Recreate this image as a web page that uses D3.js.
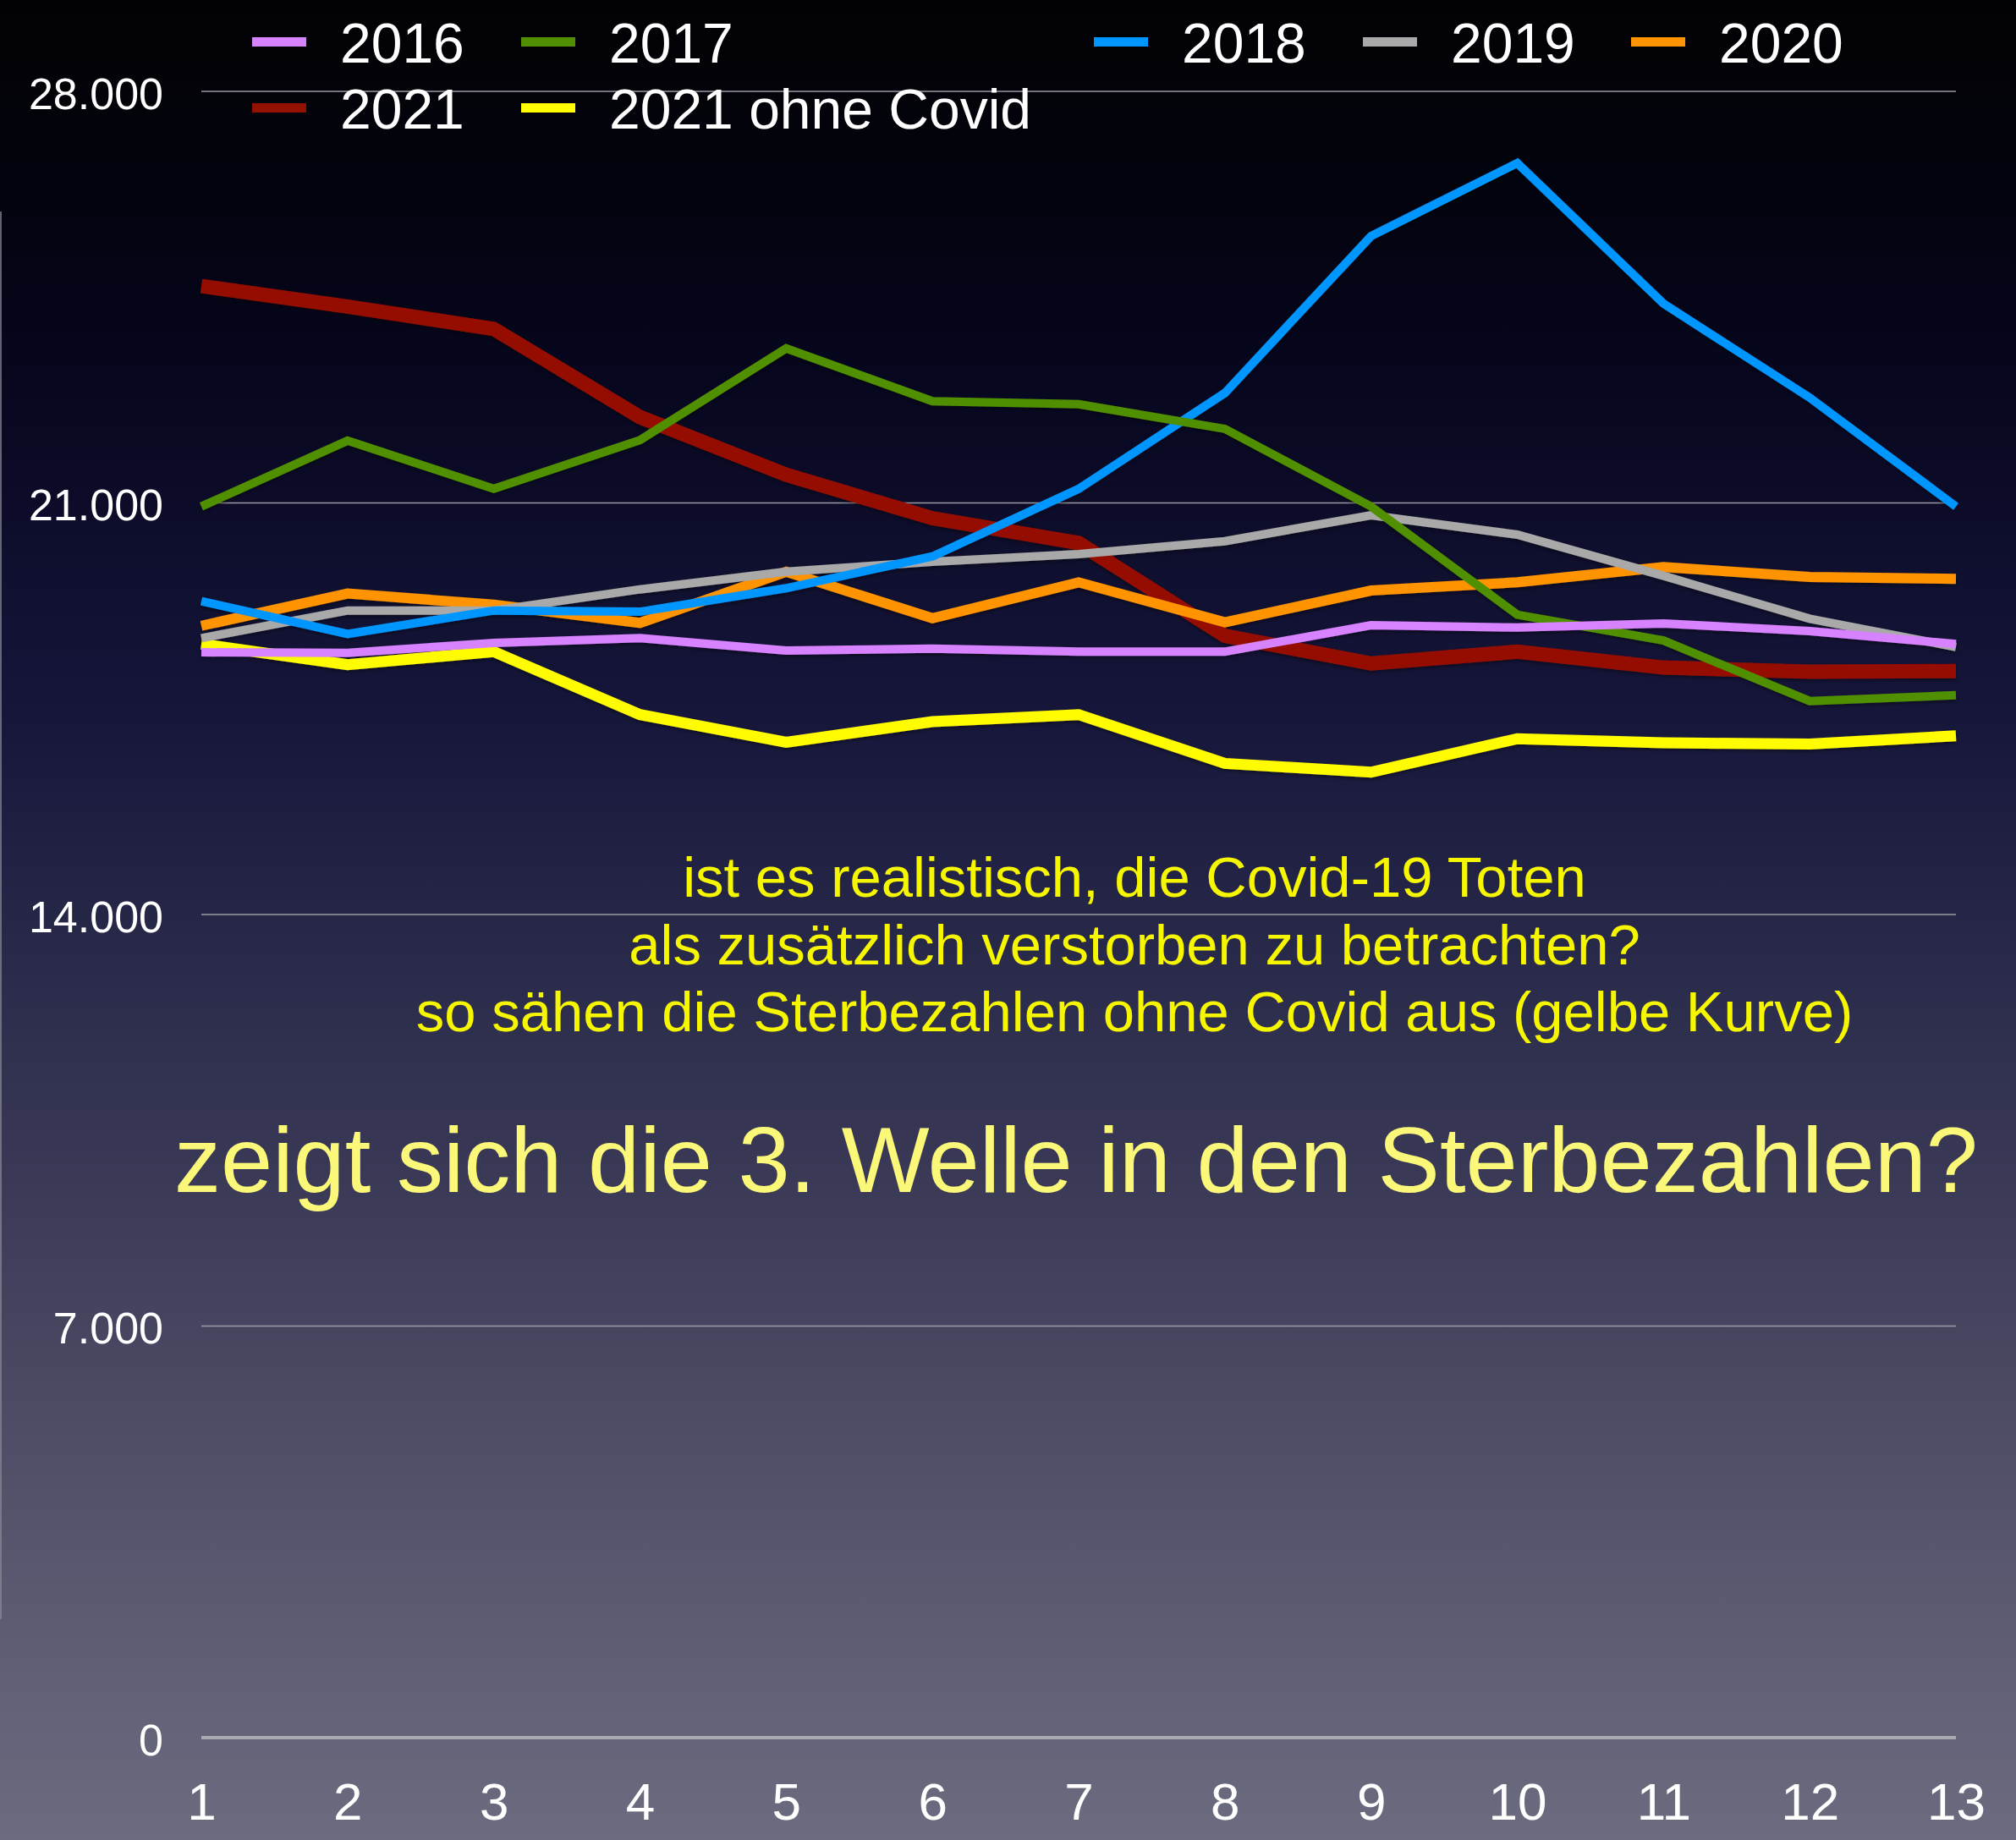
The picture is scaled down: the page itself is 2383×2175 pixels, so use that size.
<!DOCTYPE html>
<html>
<head>
<meta charset="utf-8">
<script src="https://cdn.jsdelivr.net/npm/d3@7"></script>
<style>
    body { margin: 0; background: #000; }
    svg { display: block; }
    text { font-family: "Liberation Sans", Arial, Helvetica, sans-serif; }
</style>
</head>
<body>
<div id="chart"></div>
<script>

    // x categories (weeks / months)
    var categories = [1, 2, 3, 4, 5, 6, 7, 8, 9, 10, 11, 12, 13];
    var yTicks = [0, 7000, 14000, 21000, 28000];

    var v2016 = [18460, 18450, 18620, 18700, 18490, 18520, 18470, 18470, 18920, 18880, 18950, 18820, 18600];
    var v2017 = [20940, 22060, 21240, 22070, 23630, 22730, 22680, 22260, 20940, 19100, 18660, 17630, 17730];
    var v2018 = [19330, 18770, 19170, 19150, 19550, 20090, 21240, 22870, 25540, 26780, 24390, 22790, 20940];
    var v2019 = [18700, 19170, 19170, 19530, 19830, 20000, 20130, 20350, 20790, 20460, 19760, 19030, 18550];
    var v2020 = [18910, 19460, 19270, 18960, 19830, 19040, 19650, 18970, 19510, 19650, 19910, 19740, 19710];
    var v2021 = [24690, 24340, 23960, 22460, 21480, 20740, 20320, 18740, 18270, 18470, 18200, 18130, 18140];
    var v2021ohne = [18600, 18250, 18470, 17400, 16930, 17280, 17400, 16570, 16420, 16990, 16920, 16900, 17040];

    var seriesNames = ["2016", "2017", "2018", "2019", "2020", "2021", "2021 ohne Covid"];
    var seriesValues = [v2016, v2017, v2018, v2019, v2020, v2021, v2021ohne];
    var seriesColors = ["#d783ff", "#4f8f00", "#0096ff", "#a9a9a9", "#ff9300", "#941100", "#fffb00"];
    var seriesWidths = [10, 10, 10, 10, 12, 17, 13];

    var noteLines = [
        "ist es realistisch, die Covid-19 Toten",
        "als zusätzlich verstorben zu betrachten?",
        "so sähen die Sterbezahlen ohne Covid aus (gelbe Kurve)"
    ];
    var headline = "zeigt sich die 3. Welle in den Sterbezahlen?";

    var width = 2383, height = 2175;

    var de = d3.formatLocale({ decimal: ",", thousands: ".", grouping: [3], currency: ["", " €"] });
    var fmt = de.format(",");

    var svg = d3.select('#chart').append('svg')
        .attr('width', width)
        .attr('height', height);

    /**
     * Background gradient
     */
    var defs = svg.append('defs');
    var grad = defs.append('linearGradient')
        .attr('id', 'bg').attr('x1', 0).attr('y1', 0).attr('x2', 0).attr('y2', 1);
    [[0, "#020204"], [0.1, "#03030e"], [0.2, "#06061e"], [0.38, "#15153a"],
     [0.57, "#30304f"], [0.77, "#4c4c66"], [1, "#6c6c80"]].forEach(function (s) {
        grad.append('stop').attr('offset', s[0]).attr('stop-color', s[1]);
    });
    var shadow = defs.append('filter').attr('id', 'shadow')
        .attr('x', '-5%').attr('y', '-20%').attr('width', '110%').attr('height', '140%');
    shadow.append('feDropShadow')
        .attr('dx', 0).attr('dy', 2).attr('stdDeviation', 2)
        .attr('flood-color', '#000').attr('flood-opacity', 0.45);

    svg.append('rect').attr('width', width).attr('height', height).attr('fill', 'url(#bg)');

    // thin frame line at the left edge
    svg.append('line')
        .attr('x1', 1).attr('x2', 1).attr('y1', 250).attr('y2', 1914)
        .attr('stroke', '#8a8a96').attr('stroke-width', 2).attr('opacity', 0.7);

    /**
     * Scales
     */
    var x = d3.scaleLinear().domain([1, 13]).range([238, 2312]);
    var y = d3.scaleLinear().domain([0, 28000]).range([2054, 108]);

    // grid lines
    svg.append('g')
        .selectAll('line')
        .data(yTicks)
        .enter()
        .append('line')
        .attr('x1', 238).attr('x2', 2312)
        .attr('y1', d => y(d)).attr('y2', d => y(d))
        .attr('stroke', d => d === 0 ? '#a9a9b2' : '#9a9aa4')
        .attr('stroke-width', d => d === 0 ? 4 : 1.5);

    // y axis labels
    var yAxis = d3.axisLeft(y).tickValues(yTicks).tickFormat(fmt).tickSize(0).tickPadding(0);
    svg.append('g')
        .attr('transform', 'translate(193,0)')
        .call(yAxis)
        .call(g => g.select('.domain').remove())
        .selectAll('text')
        .attr('fill', '#fff')
        .attr('font-size', 52)
        .attr('dy', 20)
        .attr('font-family', '"Liberation Sans", Arial, sans-serif');

    // x axis labels
    var xAxis = d3.axisBottom(x).tickValues(categories).tickFormat(d3.format('d')).tickSize(0).tickPadding(0);
    svg.append('g')
        .attr('transform', 'translate(0,2151)')
        .call(xAxis)
        .call(g => g.select('.domain').remove())
        .selectAll('text')
        .attr('fill', '#fff')
        .attr('font-size', 62)
        .attr('dy', 0)
        .attr('font-family', '"Liberation Sans", Arial, sans-serif');

    /**
     * Lines (drawn last series first, as in the original)
     */
    var line = d3.line()
        .x((d, i) => x(categories[i]))
        .y(d => y(d));

    var order = d3.range(seriesNames.length).reverse();
    svg.append('g')
        .attr('filter', 'url(#shadow)')
        .selectAll('path')
        .data(order)
        .enter()
        .append('path')
        .attr('d', i => line(seriesValues[i]))
        .attr('fill', 'none')
        .attr('stroke', i => seriesColors[i])
        .attr('stroke-width', i => seriesWidths[i])
        .attr('stroke-linejoin', 'miter')
        .attr('stroke-linecap', 'butt');

    /**
     * Legend
     */
    var legendPos = [[298, 0], [616, 0], [1293, 0], [1611, 0], [1928, 0], [298, 1], [616, 1]];
    var legend = svg.append('g')
        .selectAll('g')
        .data(seriesNames)
        .enter()
        .append('g')
        .attr('transform', (d, i) => 'translate(' + legendPos[i][0] + ',' + (49 + legendPos[i][1] * 78) + ')');
    legend.append('rect')
        .attr('x', 0).attr('y', -5).attr('width', 64).attr('height', 11)
        .attr('fill', (d, i) => seriesColors[i]);
    legend.append('text')
        .attr('x', 104).attr('y', 25)
        .attr('fill', '#fff')
        .attr('font-size', 66)
        .text(d => d);

    /**
     * Annotation text
     */
    svg.append('g')
        .selectAll('text')
        .data(noteLines)
        .enter()
        .append('text')
        .attr('x', 1341)
        .attr('y', (d, i) => 1060 + i * 79.5)
        .attr('text-anchor', 'middle')
        .attr('fill', '#f6f600')
        .attr('font-size', 67)
        .text(d => d);

    svg.append('text')
        .attr('x', 1272).attr('y', 1409)
        .attr('text-anchor', 'middle')
        .attr('fill', '#fbf879')
        .attr('font-size', 110)
        .text(headline);

</script>
</body>
</html>
